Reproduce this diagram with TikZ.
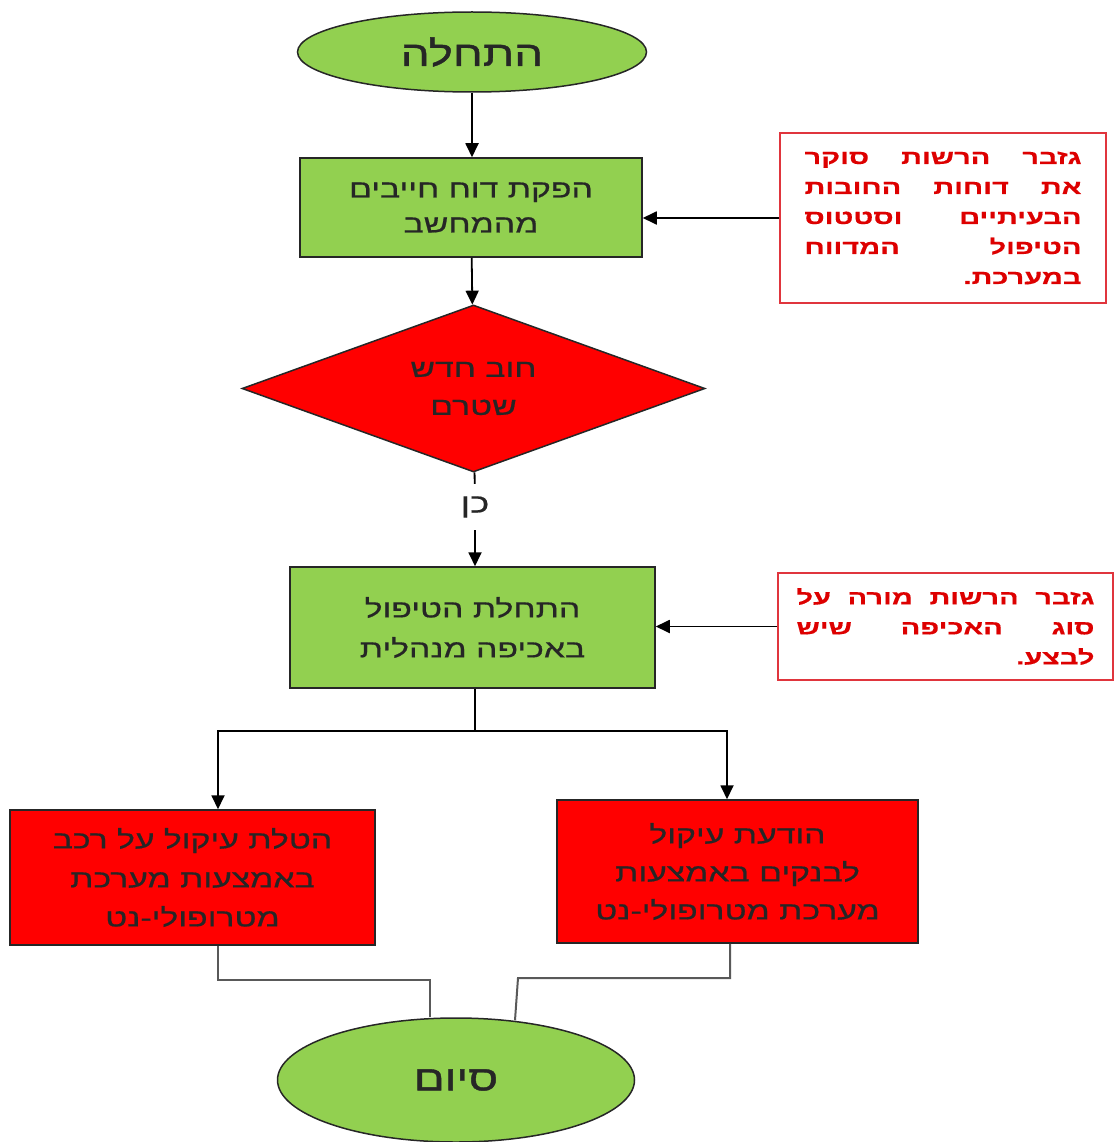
\documentclass[tikz,border=0pt]{standalone}
\usepackage{fontspec}
\usetikzlibrary{shapes.geometric,arrows.meta,calc}
\TeXXeTstate=1
\newfontfamily\hebfont[Script=Hebrew,FakeStretch=1.35,FakeBold=0.7]{Liberation Sans}
\newfontfamily\hebtitle[Script=Hebrew,FakeStretch=1.3,FakeBold=1.2]{Liberation Sans}
\newfontfamily\hebnote[Script=Hebrew,FakeStretch=1.45,FakeBold=0.5]{Liberation Sans Bold}
\newcommand\heb[1]{\beginR #1\endR}
\newcommand\jline[2]{\hbox to #1{\beginR #2\endR}}
\definecolor{fgreen}{HTML}{92D050}
\definecolor{noteborder}{HTML}{E0353D}
\definecolor{notetext}{HTML}{DD0000}
\begin{document}
\begin{tikzpicture}[x=1pt,y=-1pt,
 term/.style={ellipse, draw=black!85, line width=1.5pt, fill=fgreen, inner sep=0pt, text=black!85, font=\hebtitle\fontsize{35}{40}\selectfont},
 procbox/.style={rectangle, draw=black!85, line width=1.5pt, fill=fgreen, inner sep=0pt, align=center, text=black!85},
 redbox/.style={procbox, fill=red},
 decision/.style={diamond, shape aspect=2.77, draw=black!85, line width=1.5pt, fill=red, inner sep=0pt, align=center, text=black!85},
 note/.style={rectangle, draw=noteborder, line width=1.5pt, fill=white, inner sep=0pt, align=center, text=notetext, font=\hebnote\fontsize{20}{30}\selectfont},
 arr/.style={draw=black, line width=1.8pt, -{Triangle[length=14pt,width=13pt]}},
 blackline/.style={draw=black, line width=1.8pt},
 conn/.style={draw=black!65, line width=2pt}]
\useasboundingbox (0,0) rectangle (1117,1142);

\node[term, minimum width=349pt, minimum height=80pt] (start) at (472,52) {\heb{התחלה}};
\node[procbox, minimum width=342pt, minimum height=99pt, font=\hebfont\fontsize{25}{35}\selectfont] (b1) at (471,207.5) {\heb{הפקת דוח חייבים}\\\heb{מהמחשב}};
\node[decision, minimum width=463pt, minimum height=167pt, font=\hebfont\fontsize{25}{38}\selectfont] (dec) at (473.5,388.5) {\heb{חוב חדש}\\\heb{שטרם}};
\node[inner sep=0pt, minimum height=46pt, text=black!85, font=\hebfont\fontsize{27}{30}\selectfont] (yes) at (475,507) {\heb{כן}};
\node[procbox, minimum width=365pt, minimum height=121pt, font=\hebfont\fontsize{25}{40}\selectfont] (b2) at (472.5,627.5) {\heb{התחלת הטיפול}\\\heb{באכיפה מנהלית}};
\node[redbox, minimum width=365pt, minimum height=135pt, font=\hebfont\fontsize{25}{39}\selectfont] (lb) at (192.5,877.5) {\heb{הטלת עיקול על רכב}\\\heb{באמצעות מערכת}\\\heb{מטרופולי-נט}};
\node[redbox, minimum width=361pt, minimum height=143pt, font=\hebfont\fontsize{25}{38}\selectfont] (rb) at (737.5,871.5) {\heb{הודעת עיקול}\\\heb{לבנקים באמצעות}\\\heb{מערכת מטרופולי-נט}};
\node[term, minimum width=357pt, minimum height=124pt] (end) at (456,1080) {\heb{סיום}};

\node[note, minimum width=326pt, minimum height=170pt] (n1) at (943,218) {%
\jline{277pt}{גזבר\hfill הרשות\hfill סוקר}\\
\jline{277pt}{את\hfill דוחות\hfill החובות}\\
\jline{277pt}{הבעיתיים\hfill וסטטוס}\\
\jline{277pt}{הטיפול\hfill המדווח}\\
\jline{277pt}{במערכת.\hfill}};
\node[note, minimum width=335pt, minimum height=107pt] (n2) at (945.5,626.5) {%
\jline{298pt}{גזבר\hfill הרשות\hfill מורה\hfill על}\\
\jline{298pt}{סוג\hfill האכיפה\hfill שיש}\\
\jline{298pt}{לבצע.\hfill}};

\draw[arr] (start.south) -- (start.south |- b1.north);
\draw[arr] (b1) -- (dec);
\draw[blackline] (dec) -- (yes);
\draw[arr] (yes) -- (yes |- b2.north);
\draw[arr] (n1.west) -- (n1.west -| b1.east);
\draw[arr] (n2.west) -- (n2.west -| b2.east);

\coordinate (split) at ($(b2.south)+(2.5,42)$);
\draw[blackline] (split |- b2.south) -- (split);
\draw[arr] (split) -| ([xshift=25.5pt]lb.north);
\draw[arr] (split) -| ([xshift=-10.5pt]rb.north);

\coordinate (lj) at (430,980);
\coordinate (rj) at (518,978);
\draw[conn] ([xshift=25.5pt]lb.south) |- (lj) -- (lj |- end.north);
\draw[conn] ([xshift=-7.5pt]rb.south) |- (rj) -- ([xshift=59pt,yshift=-3pt]end.north);
\end{tikzpicture}
\end{document}
